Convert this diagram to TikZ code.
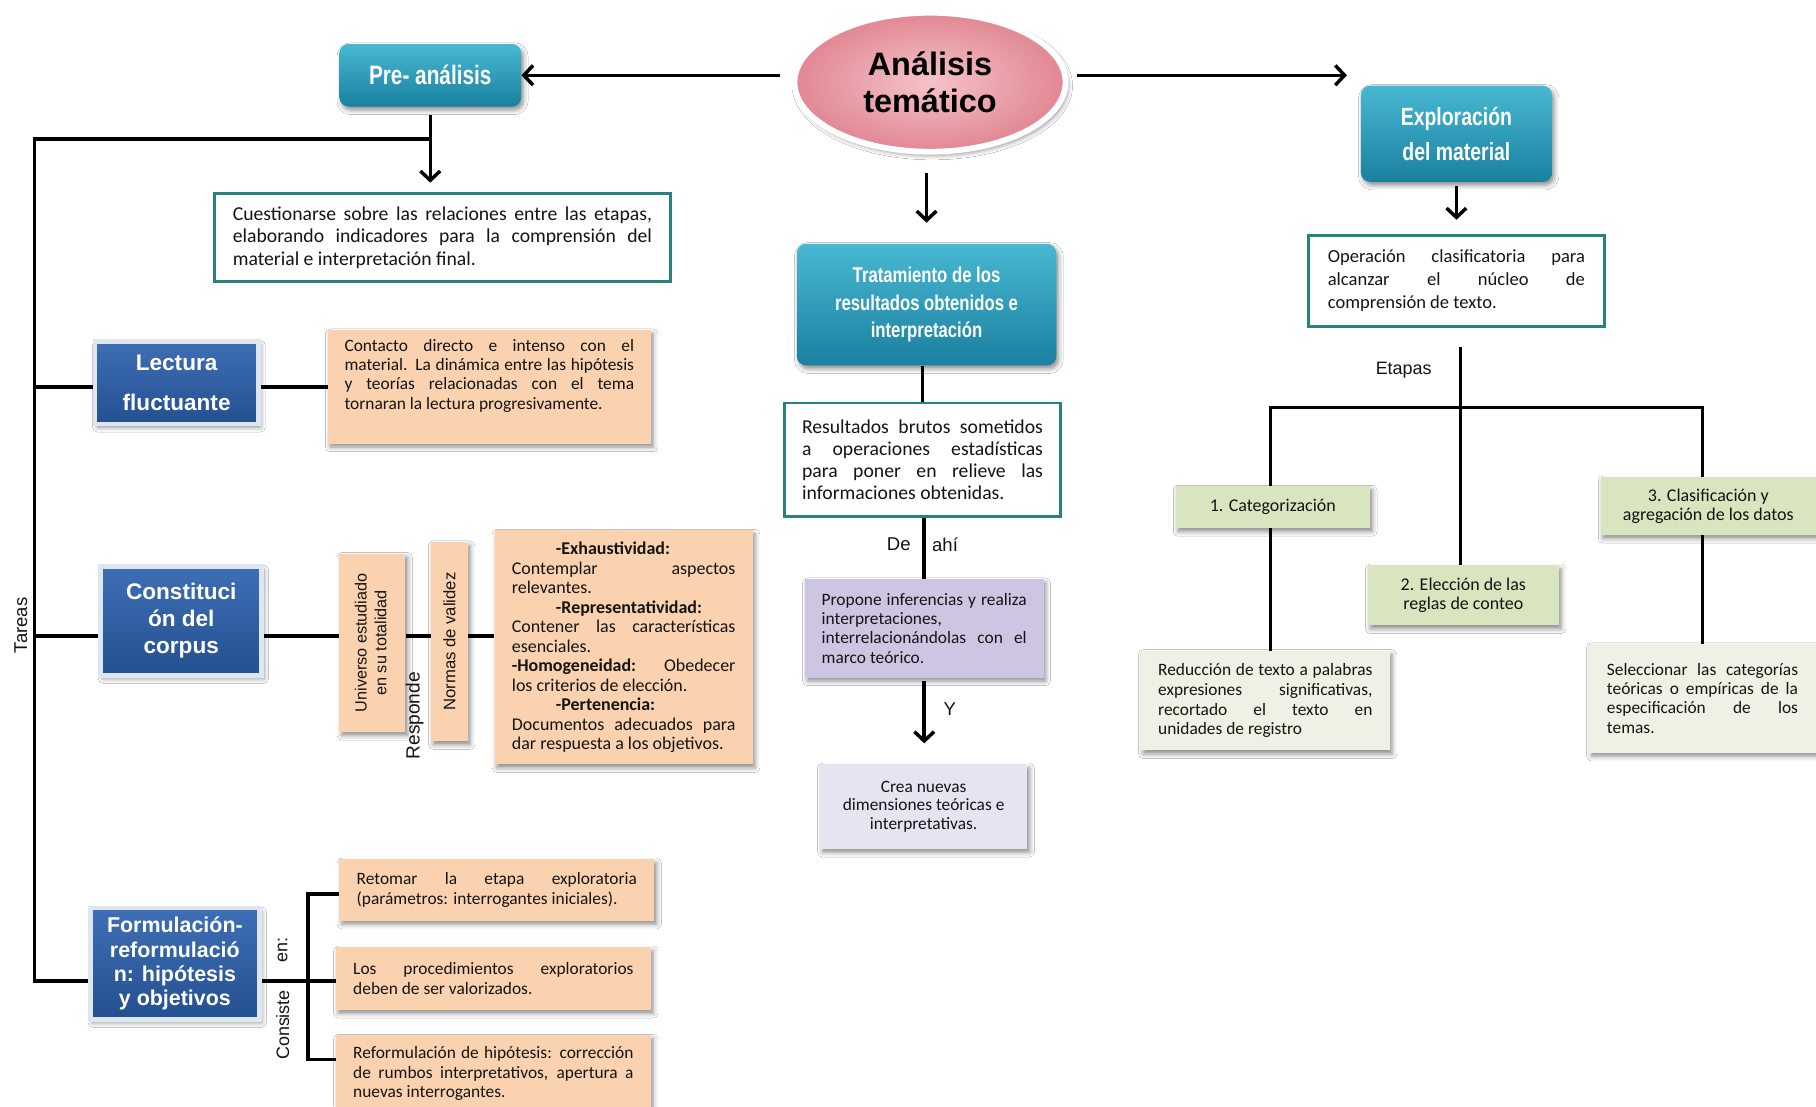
\documentclass[tikz,border=0pt]{standalone}
\usepackage{fontspec}
\usepackage{graphicx}
\setmainfont{Carlito}
\newfontfamily\arialf{Liberation Sans}
\newfontfamily\hdf{Liberation Sans}[FakeStretch=0.78]
\usetikzlibrary{shapes.geometric,arrows.meta,shadows.blur,calc}
\definecolor{tealT}{RGB}{72,184,210}
\definecolor{tealB}{RGB}{26,128,160}
\definecolor{tealBd}{RGB}{40,130,128}
\definecolor{blueT}{RGB}{62,110,180}
\definecolor{blueB}{RGB}{36,80,145}
\definecolor{blueBd}{RGB}{222,230,242}
\definecolor{peachC}{RGB}{250,210,175}
\definecolor{lavC}{RGB}{206,197,226}
\definecolor{lavL}{RGB}{231,227,241}
\definecolor{grnC}{RGB}{216,229,190}
\definecolor{grnL}{RGB}{238,242,228}
\definecolor{pinkO}{RGB}{225,135,147}
\definecolor{pinkI}{RGB}{245,195,200}
\definecolor{txt}{RGB}{20,20,20}
\tikzset{
  shad/.style={blur shadow={shadow xshift=2pt,shadow yshift=-3pt,shadow blur radius=4pt,shadow opacity=45}},
  conn/.style={line width=3pt,black},
  arr/.style={conn,-{Straight Barb[length=8pt,width=17pt]}},
  tealbox/.style={shad,rounded corners=8pt,top color=tealT,bottom color=tealB,text=white,align=center,inner sep=2pt},
  bluebox/.style={shad,draw=blueBd,line width=4pt,top color=blueT,bottom color=blueB,text=white,align=center,inner sep=2pt},
  wbox/.style={draw=tealBd,line width=2.5pt,fill=white,text=txt,align=justify,inner sep=3pt},
  pbox/.style={shad,fill=peachC,text=txt,inner sep=3pt},
  lbox/.style={shad,fill=lavC,text=txt,inner sep=3pt},
  llbox/.style={shad,fill=lavL,text=txt,inner sep=3pt},
  gbox/.style={shad,fill=grnC,text=txt,inner sep=3pt,align=center,font=\fontsize{15.5}{16.5}\selectfont},
  glbox/.style={shad,fill=grnL,text=txt,inner sep=3pt},
  lbl/.style={font=\arialf\fontsize{16}{18}\selectfont,text=txt,inner sep=1pt}
}
\begin{document}
\begin{tikzpicture}[x=1pt,y=-1pt]
\useasboundingbox[fill=white] (0,0) rectangle (1568,955);

% central nodes
\node[ellipse,shad,draw=white,line width=5pt,inner color=pinkI,outer color=pinkO,
  minimum width=234pt,minimum height=120pt,inner sep=0pt,align=center,text=black,
  font=\arialf\bfseries\fontsize{28}{32}\selectfont] (ana) at (803,71) {Análisis\\temático};
\node[tealbox,minimum width=157pt,minimum height=54pt,font=\hdf\bfseries\fontsize{23}{27}\selectfont] (pre) at (371.5,65) {Pre- análisis};
\node[tealbox,minimum width=165pt,minimum height=83pt,font=\hdf\bfseries\fontsize{21.5}{30}\selectfont] (expl) at (1257.5,115.5) {Exploración\\del material};
\node[tealbox,minimum width=224pt,minimum height=105pt,font=\hdf\bfseries\fontsize{18.5}{24}\selectfont] (trat) at (800,263) {Tratamiento de los\\resultados obtenidos e\\interpretación};

\node[wbox,minimum width=239pt,minimum height=98pt,text width=208pt,font=\fontsize{17}{19}\selectfont] (res) at (796.5,397)
 {Resultados brutos sometidos\linebreak a operaciones estadísticas\linebreak para poner en relieve las\linebreak informaciones obtenidas.};
\node[lbox,minimum width=206pt,minimum height=85pt,text width=177pt,align=justify,font=\fontsize{15}{16.7}\selectfont] (prop) at (798,542.5)
 {Propone inferencias y realiza\linebreak interpretaciones,\\ interrelacionándolas con el\linebreak marco teórico.};
\node[llbox,minimum width=179pt,minimum height=73pt,align=center,font=\fontsize{15}{16}\selectfont] (crea) at (797.5,696.5)
 {Crea nuevas\\dimensiones teóricas e\\interpretativas.};

% left column
\node[wbox,minimum width=394pt,minimum height=76pt,text width=362pt,font=\fontsize{17}{19.5}\selectfont] (cues) at (382,205)
 {Cuestionarse sobre las relaciones entre las etapas,\linebreak elaborando indicadores para la comprensión del\linebreak material e interpretación final.};
\node[bluebox,minimum width=141pt,minimum height=71pt,font=\arialf\bfseries\fontsize{19.5}{34}\selectfont] (lect) at (152.5,330.5) {Lectura\\fluctuante};
\node[pbox,minimum width=279pt,minimum height=98pt,text width=250pt,align=justify,font=\fontsize{15}{16.5}\selectfont] (cont) at (422.5,334)
 {Contacto directo e intenso con el\linebreak material. La dinámica entre las hipótesis\linebreak y teorías relacionadas con el tema\linebreak tornaran la lectura progresivamente.\\[5pt]};
\node[bluebox,minimum width=139pt,minimum height=94pt,font=\arialf\bfseries\fontsize{19.5}{23.5}\selectfont] (cons) at (156.5,536) {Constituci\\ón del\\corpus};
\node[pbox,minimum width=57pt,minimum height=154pt,font=\arialf\fontsize{14}{18}\selectfont] (univ) at (321.5,555)
 {\rotatebox{90}{\begin{tabular}{@{}c@{}}Universo estudiado\\[-1pt]en su totalidad\end{tabular}}};
\node[pbox,minimum width=32pt,minimum height=172pt,font=\arialf\fontsize{14.4}{18}\selectfont] (norm) at (388,554)
 {\rotatebox{90}{Normas de validez}};
\node[pbox,minimum width=223pt,minimum height=202pt,text width=193pt,align=justify,font=\fontsize{15.5}{16.8}\selectfont] (exh) at (538.5,559)
 {\hspace*{38pt}\textbf{-Exhaustividad:}\\
  Contemplar aspectos\linebreak relevantes.\\
  \hspace*{38pt}\textbf{-Representatividad:}\\
  Contener las características\linebreak esenciales.\\
  \textbf{-Homogeneidad:} Obedecer\linebreak los criterios de elección.\\
  \hspace*{38pt}\textbf{-Pertenencia:}\\
  Documentos adecuados para\linebreak dar respuesta a los objetivos.};
\node[bluebox,minimum width=146pt,minimum height=96pt,font=\arialf\bfseries\fontsize{18.5}{21}\selectfont] (form) at (151,832)
 {Formulación-\\reformulació\\n: hipótesis\\y objetivos};
\node[pbox,minimum width=272pt,minimum height=53pt,text width=242pt,align=justify,font=\fontsize{15}{17}\selectfont] (ret) at (429,768.5)
 {Retomar la etapa exploratoria\linebreak (parámetros: interrogantes iniciales).};
\node[pbox,minimum width=272pt,minimum height=54pt,text width=242pt,align=justify,font=\fontsize{15}{17}\selectfont] (proc) at (426,845)
 {Los procedimientos exploratorios\linebreak deben de ser valorizados.};
\node[pbox,minimum width=272pt,minimum height=66pt,text width=242pt,align=justify,font=\fontsize{15}{17}\selectfont] (reform) at (426,927)
 {Reformulación de hipótesis: corrección\linebreak de rumbos interpretativos, apertura a\linebreak nuevas interrogantes.};

% right column
\node[wbox,minimum width=255pt,minimum height=79pt,text width=222pt,font=\fontsize{16}{20}\selectfont] (oper) at (1257.5,242.5)
 {Operación clasificatoria para\linebreak alcanzar el núcleo de\linebreak comprensión de texto.};
\node[gbox,minimum width=168pt,minimum height=36pt] (cat) at (1099,438) {1. Categorización};
\node[gbox,minimum width=165pt,minimum height=52pt] (elec) at (1263.5,514) {2. Elección de las\\reglas de conteo};
\node[gbox,minimum width=186pt,minimum height=50pt] (clas) at (1475,437) {3. Clasificación y\\agregación de los datos};
\node[glbox,minimum width=215pt,minimum height=86pt,text width=185pt,align=justify,font=\fontsize{15}{17}\selectfont] (red) at (1092.5,605)
 {Reducción de texto a palabras\linebreak expresiones significativas,\linebreak recortado el texto en\linebreak unidades de registro};
\node[glbox,minimum width=196pt,minimum height=94pt,text width=165pt,align=justify,font=\fontsize{15}{16.5}\selectfont] (sel) at (1470,603)
 {Seleccionar las categorías\linebreak teóricas o empíricas de la\linebreak especificación de los\linebreak temas.};

% labels
\node[lbl,rotate=90] (tareas) at (18,540) {Tareas};
\node[lbl,rotate=90,font=\arialf\fontsize{16.5}{18}\selectfont] (resp) at (358,618) {Responde};
\node[lbl,rotate=90,font=\arialf\fontsize{15.5}{18}\selectfont] (consiste) at (244,885) {Consiste};
\node[lbl,rotate=90,font=\arialf\fontsize{15.5}{18}\selectfont] (en) at (244,820) {en:};
\node[lbl] (de) at (776,470) {De};
\node[lbl] (ahi) at (816,470) {ahí};
\node[lbl] (y) at (820,612) {Y};
\node[lbl,font=\arialf\fontsize{15.5}{18}\selectfont] (etapas) at (1212,320) {Etapas};

% coordinates
\coordinate (tTop) at (30,120);
\coordinate (tBot) at (30,847);
\coordinate (tL) at (30,334);
\coordinate (tC) at (30,549);
\coordinate (bTop) at (266,772);
\coordinate (bBot) at (266,915);
\coordinate (eA) at (1163,65);
\coordinate (jE) at (1261,352);
\coordinate (jL) at (1097,352);
\coordinate (jR) at (1470,352);

% connectors
\draw[arr,shorten <=10pt] (ana.west |- pre.east) -- (pre.east);
\draw[arr,shorten <=7pt] (ana.east |- eA) -- (eA);
\draw[arr,shorten <=16pt,shorten >=18pt] (trat.north |- ana.south) -- (trat.north);
\draw[conn] (res.north |- trat.south) -- (res.north);
\draw[conn] (prop.north |- res.south) -- (prop.north);
\draw[arr,shorten <=3pt,shorten >=18pt] (prop.south) -- (prop.south |- crea.north);

\draw[conn,shorten <=7pt] (pre.south) -- (pre.south |- tTop);
\draw[conn] (pre.south |- tTop) -- (tTop) -- (tBot) -- (tBot -| form.west);
\draw[arr,shorten >=8pt] (pre.south |- tTop) -- (pre.south |- cues.north);
\draw[conn] (tL) -- (tL -| lect.west);
\draw[conn] (tL -| lect.east) -- (tL -| cont.west);
\draw[conn] (tC) -- (tC -| cons.west);
\draw[conn] (tC -| cons.east) -- (tC -| univ.west);
\draw[conn] (tC -| univ.east) -- (tC -| norm.west);
\draw[conn] (tC -| norm.east) -- (tC -| exh.west);
\draw[conn] (tBot -| form.east) -- (tBot -| proc.west);
\draw[conn] (bTop -| ret.west) -- (bTop) -- (bBot) -- (bBot -| reform.west);

\draw[arr,shorten <=3pt,shorten >=12pt] (expl.south) -- (expl.south |- oper.north);
\draw[conn,shorten <=16pt] (jE |- oper.south) -- (jE |- elec.north);
\draw[conn] (jL |- cat.north) -- (jL) -- (jR) -- (jR |- clas.north);
\draw[conn] (jL |- cat.south) -- (jL |- red.north);
\draw[conn] (jR |- clas.south) -- (jR |- sel.north);
\end{tikzpicture}
\end{document}
